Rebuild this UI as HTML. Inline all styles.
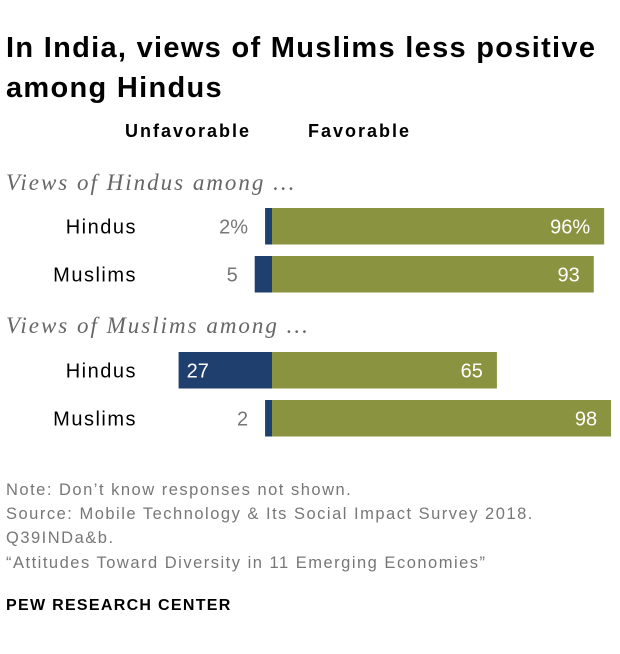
<!DOCTYPE html>
<html><head><meta charset="utf-8"><style>
body{margin:0;background:#fff;width:620px;height:654px;overflow:hidden;font-family:"Liberation Sans",sans-serif;}
.t{position:absolute;white-space:nowrap;}
.n{font-size:16.5px;color:#777;letter-spacing:1.5px;left:6px;}
</style></head><body>
<div class="t" style="left:6px;top:28px;font-size:29px;letter-spacing:1.3px;font-weight:bold;line-height:40px;color:#000;width:612px;white-space:normal;">In India, views of Muslims less positive among Hindus</div>
<div class="t" style="left:125px;top:121px;font-size:18px;letter-spacing:2px;font-weight:bold;">Unfavorable</div>
<div class="t" style="left:308px;top:121px;font-size:18px;letter-spacing:2px;font-weight:bold;">Favorable</div>
<svg id="chart" width="620" height="460" style="position:absolute;left:0;top:0;font-family:'Liberation Sans',sans-serif;"></svg>
<div class="t n" style="top:481px;">Note: Don’t know responses not shown.</div>
<div class="t n" style="top:505px;">Source: Mobile Technology &amp; Its Social Impact Survey 2018.</div>
<div class="t n" style="top:529px;">Q39INDa&amp;b.</div>
<div class="t n" style="top:554px;">“Attitudes Toward Diversity in 11 Emerging Economies”</div>
<div class="t" style="left:6px;top:597px;font-size:16px;letter-spacing:1.3px;font-weight:bold;color:#000;">PEW RESEARCH CENTER</div>
<script>
const groups=["Views of Hindus among ...","Views of Muslims among ..."];
const rowLabels=["Hindus","Muslims","Hindus","Muslims"];
const rowGroup=[0,0,1,1];
const unfav=[2,5,27,2];
const fav=[96,93,65,98];
const unfavLabels=["2%","5","27","2"];
const favLabels=["96%","93","65","98"];
const NS="http://www.w3.org/2000/svg";
const svg=document.getElementById('chart');
const x0=272, k=3.46;
const xs=v=>v*k;
const rowTop=[208,256,352,400], bh=36.5;
const groupY=[190,333];
function mk(tag,a){const e=document.createElementNS(NS,tag);for(const n in a)e.setAttribute(n,a[n]);svg.appendChild(e);return e;}
groups.forEach((g,i)=>{const t=mk('text',{x:6,y:groupY[i],'font-size':23,'letter-spacing':2,'font-style':'italic','font-family':"'Liberation Serif',serif",fill:'#666'});


t.textContent=g;});
rowLabels.forEach((l,i)=>{
const y=rowTop[i], cy=y+bh/2+7;
const t=mk('text',{x:137,y:cy,'font-size':20,'letter-spacing':1.5,'text-anchor':'end',fill:'#000'});


t.textContent=l;
const u=mk('rect',{x:x0-xs(unfav[i]),y:y,width:xs(unfav[i]),height:bh,fill:'#1f3f6e'});


const f=mk('rect',{x:x0,y:y,width:xs(fav[i]),height:bh,fill:'#8a9340'});


const inside=xs(unfav[i])>30;
const ul=mk('text',{x:inside?x0-xs(unfav[i])+8:x0-xs(unfav[i])-17,y:cy,'font-size':20,'text-anchor':inside?'start':'end',fill:inside?'#fff':'#777'});


ul.textContent=unfavLabels[i];
const fl=mk('text',{x:x0+xs(fav[i])-14,y:cy,'font-size':20,'text-anchor':'end',fill:'#fff'});


fl.textContent=favLabels[i];
});
</script>
</body></html>
